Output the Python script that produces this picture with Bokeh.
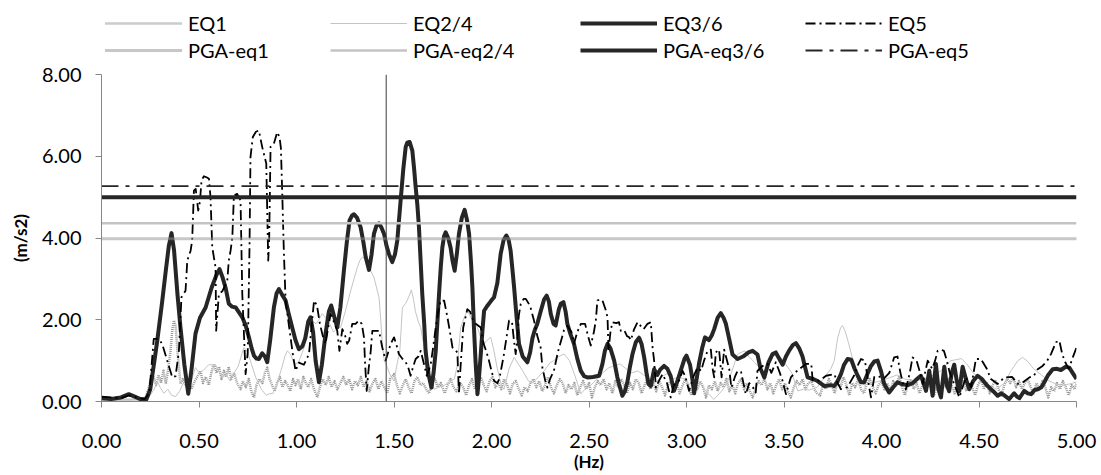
from bokeh.plotting import figure
from bokeh.layouts import column
from bokeh.models import (Range1d, FixedTicker, PrintfTickFormatter, Span,
                          Legend, LegendItem)
from bokeh.embed import file_html
from bokeh.resources import INLINE

# ---------------------------------------------------------------------------
# Acceleration spectra (m/s2) versus frequency (Hz) for the recorded events
# ---------------------------------------------------------------------------
eq1_hz = [0.00, 0.10, 0.20, 0.226, 0.240, 0.255, 0.268, 0.280, 0.293, 0.305, 0.318, 0.330, 0.342,
          0.354, 0.363, 0.371, 0.380, 0.390, 0.405, 0.418, 0.432, 0.445, 0.460, 0.474, 0.490,
          0.508, 0.520, 0.535, 0.550, 0.563, 0.576, 0.590, 0.603, 0.615, 0.628, 0.640, 0.652,
          0.665, 0.680, 0.695, 0.713, 0.725, 0.740, 0.755, 0.768, 0.782, 0.795, 0.810, 0.825,
          0.838, 0.850, 0.862, 0.875, 0.888, 0.900, 0.915, 0.928, 0.942, 0.955, 0.968, 0.982,
          0.995, 1.008, 1.022, 1.035, 1.048, 1.060, 1.075, 1.090, 1.107, 1.120, 1.135, 1.150,
          1.165, 1.180, 1.195, 1.210, 1.225, 1.240, 1.255, 1.270, 1.285, 1.300, 1.315, 1.330,
          1.345, 1.360, 1.375, 1.390, 1.405, 1.420, 1.435, 1.450, 1.465, 1.480, 1.500, 1.515,
          1.530, 1.545, 1.560, 1.575, 1.590, 1.605, 1.620, 1.635, 1.650, 1.665, 1.680, 1.695,
          1.710, 1.725, 1.740, 1.760, 1.775, 1.790, 1.805, 1.820, 1.840, 1.855, 1.870, 1.885,
          1.900, 1.915, 1.930, 1.945, 1.960, 1.975, 1.990, 2.005, 2.020, 2.035, 2.050, 2.065,
          2.080, 2.095, 2.110, 2.125, 2.140, 2.155, 2.170, 2.185, 2.200, 2.215, 2.230, 2.245,
          2.260, 2.275, 2.290, 2.305, 2.320, 2.335, 2.350, 2.365, 2.380, 2.395, 2.410, 2.425,
          2.440, 2.455, 2.470, 2.485, 2.500, 2.515, 2.530, 2.545, 2.560, 2.575, 2.590, 2.605,
          2.620, 2.635, 2.650, 2.665, 2.680, 2.695, 2.710, 2.725, 2.740, 2.755, 2.770, 2.785,
          2.800, 2.815, 2.830, 2.845, 2.860, 2.875, 2.890, 2.905, 2.920, 2.935, 2.950, 2.965,
          2.980, 2.995, 3.010, 3.025, 3.040, 3.055, 3.070, 3.085, 3.100, 3.115, 3.130, 3.145,
          3.160, 3.175, 3.190, 3.205, 3.220, 3.235, 3.250, 3.265, 3.280, 3.295, 3.310, 3.325,
          3.340, 3.355, 3.370, 3.385, 3.400, 3.415, 3.430, 3.445, 3.460, 3.475, 3.490, 3.505,
          3.520, 3.535, 3.550, 3.565, 3.580, 3.595, 3.610, 3.625, 3.640, 3.655, 3.670, 3.685,
          3.700, 3.715, 3.730, 3.745, 3.760, 3.775, 3.790, 3.805, 3.820, 3.835, 3.850, 3.865,
          3.880, 3.895, 3.910, 3.925, 3.940, 3.955, 3.970, 3.985, 4.000, 4.015, 4.030, 4.045,
          4.060, 4.075, 4.090, 4.105, 4.120, 4.135, 4.150, 4.165, 4.180, 4.195, 4.210, 4.225,
          4.240, 4.255, 4.270, 4.285, 4.300, 4.315, 4.330, 4.345, 4.360, 4.375, 4.390, 4.405,
          4.420, 4.435, 4.450, 4.465, 4.480, 4.495, 4.510, 4.525, 4.540, 4.555, 4.570, 4.585,
          4.600, 4.615, 4.630, 4.645, 4.660, 4.675, 4.690, 4.705, 4.720, 4.735, 4.750, 4.765,
          4.780, 4.795, 4.810, 4.825, 4.840, 4.855, 4.870, 4.885, 4.900, 4.915, 4.930, 4.945,
          4.960, 4.975, 4.990, 5.000]
eq1_acc = [0.05, 0.04, 0.05, 0.10, 0.30, 0.55, 0.59, 0.40, 0.65, 0.45, 0.75, 0.43, 0.80,
           1.24, 1.75, 1.98, 1.85, 1.20, 0.43, 0.55, 0.40, 0.50, 0.30, 0.45, 0.60,
           0.75, 0.45, 0.60, 0.40, 0.70, 0.92, 0.70, 0.85, 0.55, 0.75, 0.60, 0.85,
           0.55, 0.70, 0.45, 0.30, 0.50, 0.35, 0.55, 0.25, 0.10, 0.40, 0.55, 0.45,
           0.70, 0.83, 0.55, 0.40, 0.25, 0.45, 0.60, 0.35, 0.50, 0.40, 0.25, 0.55,
           0.40, 0.55, 0.30, 0.60, 0.45, 0.35, 0.55, 0.30, 0.10, 0.35, 0.55, 0.40,
           0.60, 0.35, 0.50, 0.30, 0.45, 0.60, 0.40, 0.55, 0.30, 0.50, 0.40, 0.60,
           0.35, 0.50, 0.25, 0.45, 0.55, 0.30, 0.50, 0.35, 0.20, 0.55, 0.67, 0.40,
           0.20, 0.40, 0.55, 0.35, 0.20, 0.50, 0.60, 0.40, 0.45, 0.30, 0.20, 0.45,
           0.55, 0.35, 0.45, 0.20, 0.40, 0.55, 0.35, 0.25, 0.45, 0.35, 0.15, 0.40,
           0.55, 0.30, 0.45, 0.60, 0.40, 0.25, 0.50, 0.60, 0.35, 0.45, 0.30, 0.55,
           0.40, 0.20, 0.45, 0.50, 0.30, 0.15, 0.35, 0.25, 0.45, 0.55, 0.35, 0.50,
           0.25, 0.40, 0.60, 0.35, 0.20, 0.40, 0.55, 0.45, 0.20, 0.40, 0.30, 0.45,
           0.15, 0.35, 0.50, 0.30, 0.45, 0.10, 0.35, 0.50, 0.40, 0.55, 0.30, 0.45,
           0.20, 0.50, 0.35, 0.55, 0.40, 0.20, 0.45, 0.30, 0.55, 0.45, 0.20, 0.40,
           0.55, 0.30, 0.45, 0.25, 0.50, 0.35, 0.15, 0.40, 0.50, 0.30, 0.45, 0.20,
           0.40, 0.55, 0.35, 0.15, 0.45, 0.30, 0.50, 0.35, 0.10, 0.40, 0.30, 0.50,
           0.25, 0.45, 0.35, 0.55, 0.25, 0.40, 0.20, 0.45, 0.55, 0.30, 0.45, 0.25,
           0.10, 0.35, 0.50, 0.40, 0.55, 0.30, 0.45, 0.20, 0.40, 0.55, 0.30, 0.45,
           0.25, 0.10, 0.35, 0.50, 0.40, 0.55, 0.30, 0.45, 0.50, 0.30, 0.20, 0.15,
           0.40, 0.30, 0.55, 0.40, 0.20, 0.50, 0.35, 0.60, 0.40, 0.15, 0.45, 0.35,
           0.55, 0.30, 0.20, 0.45, 0.55, 0.35, 0.20, 0.40, 0.50, 0.30, 0.45, 0.25,
           0.50, 0.40, 0.60, 0.35, 0.15, 0.40, 0.55, 0.30, 0.45, 0.20, 0.40, 0.55,
           0.35, 0.45, 0.15, 0.40, 0.30, 0.50, 0.35, 0.55, 0.40, 0.20, 0.45, 0.30,
           0.50, 0.25, 0.45, 0.35, 0.15, 0.40, 0.55, 0.30, 0.45, 0.20, 0.40, 0.50,
           0.30, 0.15, 0.40, 0.55, 0.45, 0.60, 0.35, 0.50, 0.30, 0.45, 0.55, 0.35,
           0.20, 0.45, 0.30, 0.50, 0.35, 0.10, 0.35, 0.25, 0.45, 0.30, 0.50, 0.35,
           0.15, 0.40, 0.30, 0.45]

eq24_hz = [0.00, 0.10, 0.20, 0.24, 0.27, 0.286, 0.30, 0.32, 0.34, 0.36, 0.38, 0.40, 0.42, 0.44,
           0.46, 0.482, 0.50, 0.52, 0.55, 0.585, 0.60, 0.62, 0.64, 0.66, 0.68, 0.70, 0.73,
           0.75, 0.77, 0.79, 0.82, 0.845, 0.86, 0.88, 0.90, 0.92, 0.94, 0.953, 0.97, 0.99,
           1.01, 1.03, 1.05, 1.065, 1.081, 1.10, 1.115, 1.132, 1.15, 1.17, 1.19, 1.21, 1.226,
           1.25, 1.278, 1.295, 1.312, 1.325, 1.337, 1.350, 1.365, 1.380, 1.397, 1.410, 1.423,
           1.432, 1.440, 1.450, 1.466, 1.480, 1.50, 1.515, 1.53, 1.543, 1.56, 1.575, 1.589,
           1.600, 1.61, 1.625, 1.637, 1.650, 1.665, 1.68, 1.705, 1.73, 1.76, 1.79, 1.81,
           1.825, 1.842, 1.860, 1.876, 1.90, 1.928, 1.945, 1.96, 1.978, 1.996, 2.01, 2.03,
           2.05, 2.064, 2.09, 2.116, 2.14, 2.16, 2.19, 2.21, 2.24, 2.27, 2.30, 2.32, 2.345,
           2.372, 2.40, 2.43, 2.458, 2.48, 2.51, 2.54, 2.57, 2.60, 2.63, 2.66, 2.69, 2.72,
           2.75, 2.78, 2.81, 2.84, 2.87, 2.90, 2.93, 2.96, 2.99, 3.02, 3.05, 3.08, 3.11,
           3.14, 3.17, 3.20, 3.23, 3.262, 3.28, 3.30, 3.32, 3.35, 3.38, 3.40, 3.42, 3.45,
           3.48, 3.51, 3.54, 3.57, 3.60, 3.63, 3.67, 3.71, 3.740, 3.758, 3.775, 3.790,
           3.800, 3.815, 3.830, 3.852, 3.880, 3.91, 3.95, 3.99, 4.04, 4.08, 4.12, 4.17,
           4.22, 4.27, 4.305, 4.33, 4.356, 4.38, 4.41, 4.44, 4.47, 4.51, 4.55, 4.59, 4.63,
           4.664, 4.70, 4.724, 4.75, 4.78, 4.82, 4.86, 4.90, 4.94, 4.98, 5.00]
eq24_acc = [0.05, 0.06, 0.04, 0.08, 0.30, 0.50, 0.35, 0.20, 0.30, 0.15, 0.12, 0.25, 0.45, 0.30,
            0.50, 0.83, 0.70, 0.75, 0.90, 0.90, 0.75, 0.60, 0.65, 0.50, 0.70, 0.85, 1.32,
            1.20, 0.90, 0.60, 0.30, 0.15, 0.19, 0.20, 0.45, 0.75, 1.10, 1.24, 1.15, 0.90,
            0.95, 1.20, 1.50, 1.85, 1.98, 1.90, 2.00, 2.15, 2.05, 1.90, 1.70, 1.80, 1.81,
            2.20, 2.71, 3.00, 3.28, 3.45, 3.53, 3.50, 3.45, 3.20, 3.04, 2.80, 2.55,
            2.00, 1.41, 1.00, 0.83, 0.65, 0.50, 0.90, 1.24, 2.30, 2.40, 2.55, 2.73,
            2.50, 2.20, 1.95, 1.81, 1.45, 1.10, 0.90, 0.30, 0.35, 0.40, 0.50, 0.55,
            0.90, 1.81, 2.05, 2.22, 2.00, 1.81, 1.55, 1.40, 1.50, 1.57, 1.30, 0.80,
            0.40, 0.30, 0.80, 1.08, 0.90, 0.75, 0.50, 0.45, 0.60, 0.75, 0.95, 1.00, 1.10,
            1.16, 1.00, 0.60, 0.19, 0.30, 0.40, 0.55, 0.70, 0.82, 0.88, 0.92, 0.80, 0.70,
            0.75, 0.65, 0.55, 0.45, 0.60, 0.68, 0.55, 0.60, 0.55, 0.40, 0.50, 0.38, 0.20,
            0.05, 0.20, 0.38, 0.70, 1.16, 1.20, 1.24, 1.10, 0.95, 0.80, 0.62, 0.85, 1.16,
            1.10, 0.90, 0.70, 0.26, 0.30, 0.28, 0.35, 0.60, 0.80, 1.00, 1.55, 1.80,
            1.86, 1.70, 1.45, 1.04, 0.60, 0.40, 0.45, 0.50, 0.58, 0.65, 0.55, 0.50,
            0.55, 0.65, 0.75, 0.90, 1.00, 1.02, 1.05, 0.90, 0.70, 0.55, 0.40, 0.30, 0.45,
            0.75, 1.00, 1.08, 0.98, 0.80, 0.65, 0.50, 0.42, 0.40, 0.45, 0.48]

eq36_hz = [0.00, 0.05, 0.10, 0.14, 0.17, 0.20, 0.23, 0.25, 0.27, 0.286, 0.31, 0.328, 0.345, 0.359,
           0.372, 0.39, 0.405, 0.425, 0.445, 0.462, 0.482, 0.505, 0.534, 0.565, 0.590, 0.605,
           0.620, 0.636, 0.653, 0.670, 0.688, 0.705, 0.722, 0.740, 0.756, 0.770, 0.782, 0.795,
           0.807, 0.824, 0.838, 0.850, 0.865, 0.884, 0.898, 0.910, 0.925, 0.944, 0.960, 0.978,
           0.995, 1.012, 1.030, 1.045, 1.060, 1.072, 1.085, 1.098, 1.115, 1.130, 1.150, 1.166,
           1.178, 1.192, 1.209, 1.225, 1.243, 1.258, 1.272, 1.285, 1.295, 1.310, 1.329, 1.343,
           1.355, 1.372, 1.385, 1.397, 1.410, 1.423, 1.436, 1.449, 1.462, 1.474, 1.491, 1.505,
           1.517, 1.534, 1.548, 1.560, 1.568, 1.580, 1.594, 1.603, 1.611, 1.620, 1.628, 1.637,
           1.645, 1.655, 1.662, 1.675, 1.692, 1.703, 1.714, 1.722, 1.731, 1.740, 1.748, 1.757,
           1.765, 1.778, 1.790, 1.800, 1.811, 1.822, 1.833, 1.848, 1.862, 1.874, 1.885, 1.895,
           1.902, 1.910, 1.918, 1.928, 1.936, 1.945, 1.953, 1.962, 1.980, 1.996, 2.013, 2.030,
           2.047, 2.062, 2.076, 2.088, 2.098, 2.108, 2.116, 2.128, 2.141, 2.160, 2.184, 2.198,
           2.210, 2.222, 2.235, 2.252, 2.270, 2.283, 2.294, 2.304, 2.318, 2.329, 2.345, 2.355,
           2.369, 2.380, 2.389, 2.405, 2.423, 2.440, 2.458, 2.475, 2.492, 2.520, 2.552, 2.569,
           2.582, 2.595, 2.610, 2.629, 2.645, 2.654, 2.671, 2.684, 2.697, 2.710, 2.723, 2.740,
           2.757, 2.770, 2.783, 2.795, 2.805, 2.817, 2.834, 2.850, 2.865, 2.885, 2.902, 2.919,
           2.936, 2.950, 2.970, 2.990, 3.000, 3.018, 3.030, 3.039, 3.052, 3.065, 3.080, 3.095,
           3.115, 3.130, 3.142, 3.160, 3.176, 3.190, 3.202, 3.218, 3.236, 3.262, 3.290, 3.318,
           3.339, 3.364, 3.380, 3.399, 3.420, 3.441, 3.458, 3.475, 3.493, 3.510, 3.527, 3.545,
           3.561, 3.578, 3.595, 3.610, 3.621, 3.650, 3.672, 3.706, 3.740, 3.758, 3.775, 3.792,
           3.808, 3.826, 3.845, 3.862, 3.878, 3.895, 3.911, 3.930, 3.946, 3.963, 3.980, 3.997,
           4.014, 4.039, 4.060, 4.082, 4.108, 4.134, 4.160, 4.182, 4.202, 4.216, 4.228, 4.245,
           4.262, 4.279, 4.292, 4.305, 4.322, 4.335, 4.347, 4.360, 4.373, 4.386, 4.399, 4.416,
           4.433, 4.450, 4.470, 4.493, 4.515, 4.540, 4.561, 4.580, 4.596, 4.615, 4.630, 4.655,
           4.680, 4.695, 4.707, 4.732, 4.750, 4.767, 4.785, 4.801, 4.820, 4.835, 4.855, 4.878,
           4.900, 4.920, 4.945, 4.963, 4.980, 5.000]
eq36_acc = [0.08, 0.06, 0.10, 0.18, 0.12, 0.06, 0.05, 0.30, 0.95, 1.49, 2.40, 3.13, 3.80, 4.12,
            3.70, 2.60, 1.81, 0.90, 0.19, 0.80, 1.66, 2.05, 2.30, 2.79, 3.10, 3.24,
            3.05, 2.79, 2.39, 2.32, 2.30, 2.18, 2.06, 1.85, 1.57, 1.30, 1.12, 1.05,
            1.04, 1.18, 1.10, 0.96, 1.50, 2.30, 2.65, 2.75, 2.62, 2.47, 2.15, 1.81,
            1.50, 1.28, 1.35, 1.55, 1.95, 2.06, 1.70, 1.00, 0.47, 0.90, 1.70, 2.20,
            2.35, 2.10, 1.81, 2.30, 3.20, 3.90, 4.43, 4.55, 4.58, 4.50, 4.26, 3.90,
            3.53, 3.22, 3.60, 4.10, 4.30, 4.36, 4.25, 4.10, 3.80, 3.61, 3.41, 3.60,
            3.94, 4.92, 5.70, 6.23, 6.33, 6.35, 6.14, 5.70, 5.25, 4.80, 4.26, 3.40,
            2.63, 1.90, 1.24, 0.70, 0.34, 0.70, 1.24, 1.90, 2.63, 3.30, 3.77, 4.05,
            4.14, 4.00, 3.77, 3.45, 3.20, 3.60, 4.10, 4.50, 4.69, 4.45, 4.10, 3.40,
            2.79, 1.81, 1.00, 0.18, 0.60, 1.16, 1.70, 2.22, 2.35, 2.45, 2.55, 2.90,
            3.61, 3.95, 4.06, 3.95, 3.69, 3.20, 2.79, 2.10, 1.41, 1.10, 0.96, 1.20,
            1.55, 1.75, 1.90, 2.20, 2.50, 2.59, 2.45, 2.14, 1.90, 1.86, 2.25, 2.39,
            2.43, 2.20, 1.90, 1.65, 1.41, 1.05, 0.75, 0.62, 0.59, 0.60, 0.63, 0.92,
            1.25, 1.41, 1.30, 1.00, 0.60, 0.43, 0.14, 0.25, 0.48, 0.85, 1.16, 1.45,
            1.56, 1.40, 1.08, 0.70, 0.43, 0.38, 0.79, 0.65, 0.78, 0.87, 0.80, 0.62,
            0.26, 0.45, 0.75, 1.05, 1.12, 0.90, 0.55, 0.20, 0.55, 0.95, 1.30, 1.57,
            1.50, 1.62, 1.77, 2.05, 2.16, 2.05, 1.90, 1.55, 1.15, 1.04, 1.10, 1.20,
            1.24, 1.15, 0.80, 0.59, 0.95, 1.16, 1.20, 1.05, 0.90, 1.10, 1.25, 1.38,
            1.43, 1.30, 1.10, 0.80, 0.59, 0.55, 0.50, 0.38, 0.40, 0.38, 0.50, 0.67,
            0.90, 1.04, 1.02, 0.80, 0.63, 0.47, 0.47, 0.70, 0.87, 0.98, 1.00, 0.75,
            0.43, 0.22, 0.35, 0.47, 0.42, 0.40, 0.45, 0.55, 0.63, 0.45, 0.26, 0.75,
            0.14, 0.92, 0.30, 0.10, 0.85, 0.40, 0.25, 0.70, 0.90, 0.50, 0.25, 0.85,
            0.55, 0.30, 0.50, 0.63, 0.55, 0.40, 0.30, 0.22, 0.14, 0.20, 0.15, 0.06,
            0.20, 0.12, 0.08, 0.26, 0.20, 0.18, 0.28, 0.30, 0.35, 0.47, 0.65, 0.79,
            0.80, 0.77, 0.85, 0.83, 0.70, 0.55]

eq5_hz = [0.00, 0.05, 0.10, 0.14, 0.18, 0.22, 0.245, 0.268, 0.294, 0.311, 0.337, 0.363, 0.380,
          0.397, 0.410, 0.431, 0.440, 0.457, 0.465, 0.474, 0.483, 0.496, 0.505, 0.513, 0.525,
          0.541, 0.551, 0.559, 0.568, 0.585, 0.588, 0.602, 0.620, 0.645, 0.653, 0.662, 0.671,
          0.679, 0.696, 0.713, 0.722, 0.739, 0.750, 0.759, 0.764, 0.776, 0.792, 0.807, 0.824,
          0.845, 0.855, 0.860, 0.867, 0.884, 0.901, 0.913, 0.920, 0.927, 0.935, 0.944, 0.960,
          0.980, 0.995, 1.012, 1.038, 1.064, 1.090, 1.105, 1.120, 1.135, 1.149, 1.162, 1.175,
          1.192, 1.209, 1.220, 1.235, 1.250, 1.260, 1.270, 1.286, 1.303, 1.320, 1.335, 1.346,
          1.352, 1.360, 1.370, 1.380, 1.389, 1.406, 1.423, 1.440, 1.457, 1.470, 1.482, 1.500,
          1.512, 1.525, 1.542, 1.560, 1.572, 1.585, 1.598, 1.611, 1.625, 1.637, 1.652, 1.668,
          1.688, 1.700, 1.714, 1.727, 1.739, 1.757, 1.774, 1.787, 1.800, 1.815, 1.825, 1.833,
          1.842, 1.855, 1.876, 1.890, 1.900, 1.919, 1.945, 1.960, 1.975, 1.987, 2.000, 2.013,
          2.030, 2.040, 2.052, 2.064, 2.078, 2.090, 2.105, 2.115, 2.124, 2.132, 2.140, 2.150,
          2.165, 2.176, 2.190, 2.200, 2.218, 2.235, 2.252, 2.261, 2.276, 2.287, 2.300, 2.320,
          2.340, 2.364, 2.372, 2.389, 2.410, 2.423, 2.440, 2.458, 2.480, 2.495, 2.509, 2.525,
          2.535, 2.543, 2.556, 2.569, 2.585, 2.595, 2.600, 2.610, 2.620, 2.640, 2.654, 2.663,
          2.680, 2.695, 2.706, 2.715, 2.730, 2.749, 2.765, 2.780, 2.800, 2.817, 2.826, 2.834,
          2.843, 2.858, 2.877, 2.900, 2.919, 2.935, 2.962, 2.980, 2.995, 3.013, 3.035, 3.056,
          3.075, 3.090, 3.108, 3.125, 3.134, 3.142, 3.150, 3.167, 3.180, 3.193, 3.205, 3.219,
          3.230, 3.248, 3.262, 3.280, 3.304, 3.322, 3.340, 3.355, 3.364, 3.385, 3.400, 3.416,
          3.435, 3.458, 3.475, 3.493, 3.510, 3.535, 3.560, 3.578, 3.613, 3.640, 3.647, 3.680,
          3.716, 3.758, 3.775, 3.792, 3.825, 3.861, 3.880, 3.895, 3.915, 3.935, 3.946, 3.963,
          3.985, 4.010, 4.040, 4.065, 4.082, 4.095, 4.108, 4.125, 4.145, 4.159, 4.180, 4.198,
          4.211, 4.237, 4.260, 4.275, 4.288, 4.305, 4.320, 4.335, 4.350, 4.375, 4.399, 4.433,
          4.460, 4.484, 4.510, 4.540, 4.561, 4.596, 4.630, 4.670, 4.699, 4.720, 4.759, 4.780,
          4.801, 4.826, 4.850, 4.869, 4.895, 4.912, 4.925, 4.938, 4.960, 4.981, 5.000]
eq5_acc = [0.12, 0.10, 0.08, 0.15, 0.10, 0.06, 0.20, 1.53, 1.53, 1.41, 1.00, 0.59, 0.62,
           1.24, 2.55, 2.71, 3.45, 3.69, 3.94, 5.16, 5.20, 4.67, 4.90, 5.41, 5.51,
           5.48, 5.45, 5.00, 3.77, 3.28, 1.73, 2.63, 2.70, 2.96, 3.45, 3.69, 4.02,
           5.04, 5.08, 4.92, 2.63, 0.67, 1.20, 3.77, 5.98, 6.47, 6.60, 6.63, 6.23,
           5.82, 3.45, 4.00, 6.23, 6.31, 6.59, 6.47, 6.20, 5.08, 3.70, 2.47, 1.90,
           1.20, 0.75, 0.95, 0.90, 1.16, 2.47, 2.35, 1.90, 1.60, 1.41, 1.80, 2.14,
           1.95, 1.73, 1.24, 1.77, 1.60, 1.41, 1.49, 1.90, 1.90, 1.98, 1.90, 1.57,
           0.90, 0.26, 0.80, 1.20, 1.73, 1.73, 1.73, 1.32, 1.00, 1.20, 1.40, 1.57,
           1.40, 1.16, 1.05, 0.96, 0.85, 0.63, 0.85, 1.04, 1.10, 1.24, 0.95, 0.63,
           0.90, 1.30, 1.81, 2.20, 2.47, 2.47, 2.06, 1.70, 1.32, 1.25, 1.20, 0.18,
           0.90, 1.81, 2.26, 2.20, 2.05, 1.90, 1.81, 1.41, 1.20, 1.00, 0.75, 0.51,
           0.45, 0.55, 0.85, 1.16, 1.60, 1.98, 1.95, 1.50, 1.16, 1.50, 2.10, 2.39,
           2.51, 2.51, 2.40, 2.30, 1.98, 1.60, 1.32, 0.83, 0.50, 0.34, 0.55, 0.75,
           1.20, 1.61, 1.75, 1.85, 1.70, 1.41, 1.70, 1.90, 1.90, 1.60, 1.37, 1.70,
           1.98, 2.47, 2.50, 2.47, 2.25, 2.06, 1.24, 1.70, 1.94, 1.92, 1.94, 1.73,
           1.75, 1.60, 1.57, 1.50, 1.75, 1.94, 1.85, 1.77, 1.90, 1.94, 1.32, 1.00,
           0.34, 0.50, 0.67, 0.45, 0.10, 0.40, 0.51, 0.75, 0.60, 0.26, 0.60, 0.83,
           0.75, 1.00, 1.24, 1.27, 0.80, 0.59, 1.20, 1.27, 0.59, 1.27, 1.05, 0.80,
           0.34, 0.60, 0.75, 0.72, 0.18, 0.45, 0.35, 0.22, 0.75, 0.85, 0.90, 0.92,
           0.70, 0.96, 0.75, 0.50, 0.18, 0.59, 0.72, 0.79, 0.92, 0.92, 0.51, 0.51,
           0.63, 0.67, 0.45, 0.30, 0.35, 0.65, 0.90, 1.04, 1.00, 0.40, 0.10, 0.60,
           0.62, 0.55, 0.70, 1.08, 1.10, 0.75, 0.47, 0.30, 0.70, 1.08, 1.00, 0.70,
           0.43, 1.00, 0.80, 1.00, 1.24, 1.27, 1.24, 1.00, 0.70, 0.40, 0.10, 0.60,
           0.35, 1.04, 1.04, 0.80, 0.55, 0.43, 0.59, 0.60, 0.43, 0.45, 0.59, 0.62,
           0.79, 0.87, 1.00, 1.16, 1.45, 1.49, 1.20, 1.00, 0.80, 1.08, 1.32]

# Peak ground acceleration of each event, drawn across the whole band
pga_names = ["PGA-eq1", "PGA-eq2/4", "PGA-eq3/6", "PGA-eq5"]
pga_values = [3.98, 4.36, 5.00, 5.27]
band_hz = [0.0, 5.0]

# Reference frequency marked by the vertical line
f_ref = 1.46

series_names = ["EQ1", "EQ2/4", "EQ3/6", "EQ5"]
x_ticks = [0.0, 0.5, 1.0, 1.5, 2.0, 2.5, 3.0, 3.5, 4.0, 4.5, 5.0]
y_ticks = [0.0, 2.0, 4.0, 6.0, 8.0]

FONT = "Lato"
AXIS_GREY = "#878787"

series_styles = [
    dict(line_color="#999999", line_width=2.5, line_dash="1 1"),
    dict(line_color="#c4c4c4", line_width=1.0),
    dict(line_color="#262626", line_width=4.0),
    dict(line_color="#000000", line_width=1.8, line_dash="10 4 2 4"),
]
pga_styles = [
    dict(line_color="#8f8f8f", line_width=3.0, line_dash="1 1"),
    dict(line_color="#c4c4c4", line_width=2.5),
    dict(line_color="#262626", line_width=4.0),
    dict(line_color="#262626", line_width=1.8, line_dash="17 7 4 7"),
]
spectra = [(eq1_hz, eq1_acc), (eq24_hz, eq24_acc), (eq36_hz, eq36_acc), (eq5_hz, eq5_acc)]

# ---------------------------------------------------------------------------
# Main chart
# ---------------------------------------------------------------------------
p = figure(width=1101, height=413, output_backend="svg", toolbar_location=None,
           x_range=Range1d(0, 5), y_range=Range1d(0, 8),
           min_border_left=101, min_border_right=25, min_border_top=12, min_border_bottom=74)
p.outline_line_color = None
p.grid.visible = False
p.background_fill_color = "white"
p.border_fill_color = "white"

for (hz, acc), st in zip(spectra, series_styles):
    p.line(hz, acc, line_join="round", **st)

for val, st in zip(pga_values, pga_styles):
    p.line(band_hz, [val, val], **st)

p.add_layout(Span(location=f_ref, dimension="height", line_color="#3a3a3a", line_width=1))

for ax in (p.xaxis[0], p.yaxis[0]):
    ax.axis_line_color = AXIS_GREY
    ax.major_tick_line_color = AXIS_GREY
    ax.major_tick_in = 0
    ax.major_tick_out = 6
    ax.minor_tick_line_color = None
    ax.major_label_text_font = FONT
    ax.major_label_text_font_size = "20px"
    ax.major_label_text_color = "#000000"
    ax.axis_label_text_font = FONT
    ax.axis_label_text_font_size = "17px"
    ax.axis_label_text_font_style = "bold"
    ax.axis_label_text_color = "#000000"
    ax.formatter = PrintfTickFormatter(format="%.2f")

p.xaxis.ticker = FixedTicker(ticks=x_ticks)
p.yaxis.ticker = FixedTicker(ticks=y_ticks)
p.xaxis.axis_label = "(Hz)"
p.yaxis.axis_label = "(m/s2)"
p.xaxis.major_label_standoff = 26
p.xaxis.axis_label_standoff = 0
p.yaxis.major_label_standoff = 14
p.yaxis.axis_label_standoff = 8

# ---------------------------------------------------------------------------
# Legend strip above the chart: four columns, spectrum over its PGA level.
# The strip's ranges lie away from the data so only the legend shows.
# ---------------------------------------------------------------------------
key = figure(width=1101, height=62, output_backend="svg", toolbar_location=None,
             x_range=Range1d(10, 11), y_range=Range1d(10, 11),
             x_axis_location=None, y_axis_location=None,
             min_border_left=101, min_border_right=25, min_border_top=0, min_border_bottom=0)
key.outline_line_color = None
key.grid.visible = False
key.border_fill_color = "white"
key.background_fill_color = "white"

column_offsets = [4, 229, 479, 704]
for name, pga_name, (hz, acc), val, st, pst, x_off in zip(
        series_names, pga_names, spectra, pga_values, series_styles, pga_styles, column_offsets):
    r_s = key.line(hz, acc, **st)
    r_p = key.line(band_hz, [val, val], **pst)
    leg = Legend(items=[LegendItem(label=name, renderers=[r_s]),
                        LegendItem(label=pga_name, renderers=[r_p])],
                 location=(x_off, 0), orientation="vertical",
                 glyph_width=77, glyph_height=20, label_height=20, label_standoff=6,
                 spacing=3, padding=0, margin=0,
                 border_line_color=None, background_fill_alpha=0,
                 label_text_font=FONT, label_text_font_size="20px",
                 label_text_color="#000000")
    key.add_layout(leg, "center")

page = column(key, p, spacing=0)
open("out.html", "w").write(file_html(page, INLINE))
